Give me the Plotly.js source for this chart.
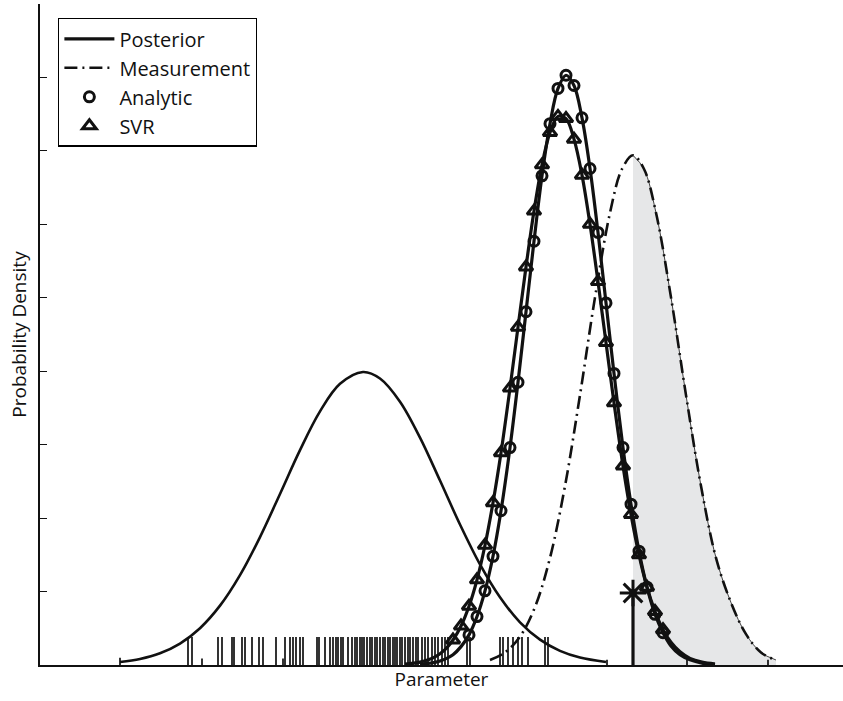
<!DOCTYPE html>
<html>
<head>
<meta charset="utf-8">
<script src="https://cdn.plot.ly/plotly-3.0.1.min.js"></script>
<style>html,body{margin:0;padding:0;background:#fff;}#chart{width:843px;height:701px;}</style>
</head>
<body>
<div id="chart"></div>
<script>
// ---- data ----
// Prior (solid, thin)
const priorX = [0.80,1.00,1.20,1.40,1.60,1.80,2.00,2.20,2.40,2.60,2.80,3.00,3.23,3.40,3.60,3.80,4.00,4.20,4.40,4.60,4.80,5.00,5.20,5.40,5.66];
const priorY = [0.04,0.082,0.16,0.292,0.501,0.808,1.224,1.742,2.329,2.926,3.453,3.828,3.99,3.901,3.585,3.096,2.511,1.913,1.369,0.921,0.581,0.345,0.192,0.101,0.04];

// Posterior, analytic (circles)
const analyticX = [3.80,3.95,4.05,4.13,4.21,4.29,4.37,4.45,4.53,4.61,4.70,4.78,4.86,4.94,5.02,5.10,5.18,5.26,5.34,5.42,5.50,5.58,5.66,5.74,5.83,5.91,5.99,6.07,6.15,6.23,6.31,6.40,6.50,6.62,6.75];
const analyticY = [0.01,0.036,0.08,0.14,0.25,0.41,0.66,1.01,1.48,2.10,2.96,3.85,4.81,5.77,6.66,7.37,7.85,8.03,7.89,7.45,6.76,5.89,4.93,3.97,2.96,2.19,1.55,1.06,0.69,0.44,0.26,0.14,0.07,0.026,0.008];

// Posterior, SVR (triangles)
const svrX = [3.65,3.80,3.95,4.05,4.13,4.21,4.29,4.37,4.45,4.53,4.61,4.70,4.78,4.86,4.94,5.02,5.10,5.18,5.26,5.34,5.42,5.50,5.58,5.66,5.74,5.83,5.91,5.99,6.07,6.15,6.23,6.31,6.40,6.50,6.62,6.75];
const svrY = [0.012,0.039,0.11,0.21,0.34,0.53,0.80,1.16,1.63,2.21,2.89,3.77,4.60,5.42,6.18,6.81,7.25,7.47,7.44,7.16,6.67,6.00,5.22,4.39,3.57,2.71,2.05,1.50,1.06,0.73,0.48,0.31,0.18,0.09,0.039,0.014];

// Marker ranges (first / last marked parameter value)
const analyticMarkRange = [4.29, 6.23];
const svrMarkRange = [4.13, 6.23];

// Measurement likelihood (dash-dot)
const measX = [4.50,4.65,4.80,4.95,5.10,5.25,5.40,5.55,5.70,5.82,5.93,6.04,6.16,6.31,6.46,6.61,6.76,6.91,7.06,7.21,7.36];
const measY = [0.068,0.17,0.386,0.789,1.459,2.437,3.675,5.005,6.157,6.753,6.94,6.753,6.157,5.005,3.675,2.437,1.459,0.85,0.42,0.17,0.068];
const shadeFrom = 5.93;

// Observed value (stem + asterisk)
const obsX = 5.93;
const obsY = 0.98;

// Rug of samples along the baseline
const rugX = [0.80,1.48,1.52,1.62,1.78,1.82,1.92,1.94,2.02,2.05,2.12,2.19,2.23,2.36,2.43,2.45,2.50,2.53,2.56,2.60,2.63,2.77,2.79,2.85,2.90,2.93,2.96,2.98,3.01,3.03,3.08,3.12,3.15,3.17,3.20,3.22,3.24,3.27,3.30,3.32,3.35,3.37,3.40,3.43,3.45,3.48,3.50,3.53,3.55,3.57,3.60,3.62,3.65,3.68,3.70,3.73,3.76,3.78,3.82,3.85,3.88,3.92,3.95,3.98,4.02,4.05,4.08,4.27,4.30,4.60,4.63,4.68,4.73,4.78,4.82,4.88,5.05,5.08,5.67,6.47,7.28];
const rugH = [0.10,0.38,0.38,0.09,0.38,0.38,0.38,0.38,0.38,0.38,0.38,0.38,0.38,0.38,0.09,0.38,0.38,0.38,0.38,0.38,0.38,0.38,0.38,0.38,0.38,0.38,0.38,0.38,0.38,0.38,0.38,0.38,0.38,0.38,0.38,0.38,0.38,0.38,0.38,0.38,0.38,0.38,0.38,0.38,0.38,0.38,0.38,0.38,0.38,0.38,0.38,0.38,0.38,0.38,0.38,0.38,0.38,0.38,0.38,0.38,0.38,0.38,0.38,0.38,0.38,0.38,0.38,0.38,0.38,0.38,0.38,0.38,0.38,0.38,0.38,0.38,0.38,0.38,0.07,0.07,0.07];

// Labels
const legendNames = ['Posterior','Measurement','Analytic','SVR'];
const xTitle = 'Parameter';
const yTitle = 'Probability Density';

// ---- build traces ----
const rugXs = [], rugYs = [];
rugX.forEach((x, i) => { rugXs.push(x, x, null); rugYs.push(0, rugH[i], null); });

function subset(xs, ys, r) {
  const ox = [], oy = [];
  xs.forEach((x, i) => { if (x >= r[0] - 1e-9 && x <= r[1] + 1e-9) { ox.push(x); oy.push(ys[i]); } });
  return [ox, oy];
}
const [aMX, aMY] = subset(analyticX, analyticY, analyticMarkRange);
const [sMX, sMY] = subset(svrX, svrY, svrMarkRange);
const [shX, shY] = subset(measX, measY, [shadeFrom, 99]);

const FONT = 'Open Sans, Liberation Sans, sans-serif';
const INK = '#111';

const traces = [
  { x: shX, y: shY, type: 'scatter', mode: 'lines', fill: 'tozeroy', fillcolor: '#e6e7e8',
    line: { color: INK, width: 0.8, shape: 'spline' }, showlegend: false, hoverinfo: 'skip' },
  { x: rugXs, y: rugYs, type: 'scatter', mode: 'lines', line: { color: '#000', width: 1.6 },
    showlegend: false, hoverinfo: 'skip' },
  { x: priorX, y: priorY, type: 'scatter', mode: 'lines', line: { color: INK, width: 2.6, shape: 'spline' },
    showlegend: false },
  { x: analyticX, y: analyticY, type: 'scatter', mode: 'lines', name: legendNames[0], legendrank: 1,
    line: { color: INK, width: 3.2, shape: 'spline' } },
  { x: svrX, y: svrY, type: 'scatter', mode: 'lines', line: { color: INK, width: 3.2, shape: 'spline' },
    showlegend: false },
  { x: measX, y: measY, type: 'scatter', mode: 'lines', name: legendNames[1], legendrank: 2,
    line: { color: INK, width: 2.6, dash: '13px,5px,2px,5px', shape: 'spline' } },
  { x: aMX, y: aMY, type: 'scatter', mode: 'markers', name: legendNames[2], legendrank: 3,
    marker: { symbol: 'circle-open', size: 10, color: INK, line: { width: 3, color: INK } } },
  { x: sMX, y: sMY, type: 'scatter', mode: 'markers', name: legendNames[3], legendrank: 4,
    marker: { symbol: 'triangle-up-open', size: 12, color: INK, line: { width: 3, color: INK } } },
  { x: [obsX, obsX], y: [0, obsY], type: 'scatter', mode: 'lines', line: { color: INK, width: 3.2 },
    showlegend: false },
  { x: [obsX], y: [obsY], type: 'scatter', mode: 'markers', showlegend: false,
    marker: { symbol: 'asterisk-open', size: 22, color: INK, line: { width: 3, color: INK } } }
];

const layout = {
  width: 843, height: 701,
  margin: { l: 40, r: 0, t: 4, b: 36 },
  paper_bgcolor: '#fff', plot_bgcolor: '#fff',
  font: { family: FONT, color: INK, size: 19 },
  showlegend: true,
  legend: {
    x: 0.0224, y: 0.979, xanchor: 'left', yanchor: 'top',
    bgcolor: '#fff', bordercolor: '#000', borderwidth: 1.4,
    itemwidth: 50,
    font: { family: FONT, size: 20, color: INK }
  },
  xaxis: {
    range: [0, 8.03], showline: true, linecolor: INK, linewidth: 2.4,
    ticks: '', showticklabels: false, showgrid: false, zeroline: false,
    title: { text: xTitle, font: { family: FONT, size: 19 }, standoff: 6 }
  },
  yaxis: {
    range: [0, 9], showline: true, linecolor: INK, linewidth: 1.8,
    ticks: 'inside', ticklen: 7, tickwidth: 1.2, tickcolor: INK, tick0: 0, dtick: 1,
    showticklabels: false, showgrid: false, zeroline: false,
    title: { text: yTitle, font: { family: FONT, size: 19 }, standoff: 6 }
  }
};

Plotly.newPlot('chart', traces, layout, { displayModeBar: false, staticPlot: true });
</script>
</body>
</html>
